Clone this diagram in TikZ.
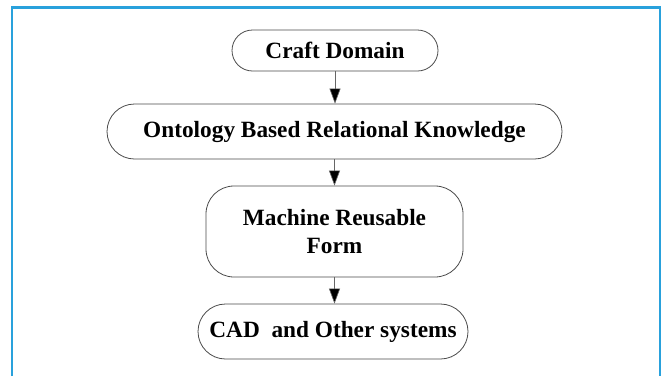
\documentclass[tikz,border=0pt]{standalone}
\usepackage{fontspec}
\setmainfont{Liberation Serif}
\usetikzlibrary{arrows.meta}
\definecolor{frameblue}{RGB}{41,161,220}
\tikzset{
  flowbox/.style={draw=black!70,line width=.8pt,fill=white,align=center,inner sep=0pt,font=\fontsize{23.3}{28}\selectfont\bfseries},
  flowarrow/.style={draw=black!60,line width=.6pt,-{Triangle[length=15pt,width=11pt,fill=black]}}
}
\begin{document}
\begin{tikzpicture}[x=1pt,y=1pt]
\useasboundingbox (0,0) rectangle (664,-376);
\fill[white] (0,0) rectangle (664,-376);
\draw[frameblue,line width=2.5pt] (12,-376) -- (12,-7.5) -- (660,-7.5) -- (660,-376);
\node[flowbox,minimum width=206pt,minimum height=41pt,rounded corners=20.5pt] (craft) at (335,-50.5) {Craft Domain};
\node[flowbox,minimum width=455pt,minimum height=55pt,rounded corners=27.5pt] (onto) at (334.5,-131.5) {Ontology Based Relational Knowledge};
\node[flowbox,minimum width=257pt,minimum height=91pt,rounded corners=28pt] (mrf) at (334.5,-231.5) {Machine Reusable\\Form};
\node[flowbox,minimum width=270pt,minimum height=55pt,rounded corners=27.5pt] (cad) at (333,-331.5) {CAD\ \ and Other systems};
\draw[flowarrow] (craft.south) -- (craft.south |- onto.north);
\draw[flowarrow] (onto.south) -- (onto.south |- mrf.north);
\draw[flowarrow] (mrf.south) -- (mrf.south |- cad.north);
\end{tikzpicture}
\end{document}
